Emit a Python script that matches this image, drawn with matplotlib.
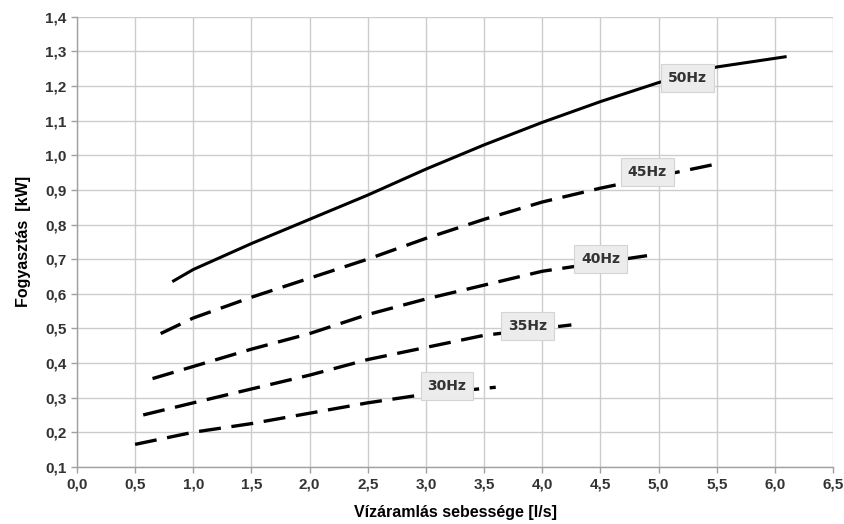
import numpy as np
import matplotlib.pyplot as plt
from matplotlib.ticker import MultipleLocator, FuncFormatter

x50 = [0.82, 1.0, 1.5, 2.0, 2.5, 3.0, 3.5, 4.0, 4.5, 5.0, 5.5, 6.1]
y50 = [0.635, 0.67, 0.745, 0.815, 0.885, 0.96, 1.03, 1.095, 1.155, 1.21, 1.255, 1.285]
x45 = [0.72, 1.0, 1.5, 2.0, 2.5, 3.0, 3.5, 4.0, 4.5, 5.0, 5.5]
y45 = [0.485, 0.53, 0.59, 0.645, 0.70, 0.76, 0.815, 0.865, 0.905, 0.94, 0.975]
x40 = [0.65, 1.0, 1.5, 2.0, 2.5, 3.0, 3.5, 4.0, 4.5, 4.9]
y40 = [0.355, 0.39, 0.44, 0.485, 0.54, 0.585, 0.625, 0.665, 0.69, 0.71]
x35 = [0.57, 1.0, 1.5, 2.0, 2.5, 3.0, 3.5, 4.25]
y35 = [0.25, 0.285, 0.325, 0.365, 0.41, 0.445, 0.48, 0.51]
x30 = [0.5, 1.0, 1.5, 2.0, 2.5, 3.0, 3.6]
y30 = [0.165, 0.20, 0.225, 0.255, 0.285, 0.31, 0.33]

labels = ['50Hz', '45Hz', '40Hz', '35Hz', '30Hz']
label_x = [5.25, 4.9, 4.5, 3.87, 3.18]
label_y = [1.224, 0.952, 0.70, 0.507, 0.333]

series = [(x50, y50), (x45, y45), (x40, y40), (x35, y35), (x30, y30)]

fig = plt.figure(figsize=(8.45, 5.24), dpi=100)
ax = fig.add_axes([0.091, 0.109, 0.895, 0.859])

for i, (xs, ys) in enumerate(series):
    if i == 0:
        ax.plot(xs, ys, color='black', lw=2.2, solid_capstyle='butt', zorder=3)
    else:
        ax.plot(xs, ys, color='black', lw=2.4, dashes=(6.6, 3.2), zorder=3)

for lab, lx, ly in zip(labels, label_x, label_y):
    ax.text(lx, ly, lab, ha='center', va='center', fontsize=10, fontweight='bold',
            color='#333333', family='DejaVu Sans', zorder=5,
            bbox=dict(boxstyle='square,pad=0.5', fc='#ececec', ec='#d4d4d4', lw=0.8))

ax.set_xlim(0, 6.5)
ax.set_ylim(0.1, 1.4)
ax.xaxis.set_major_locator(MultipleLocator(0.5))
ax.yaxis.set_major_locator(MultipleLocator(0.1))
fmt = FuncFormatter(lambda v, p: f'{v:.1f}'.replace('.', ','))
ax.xaxis.set_major_formatter(fmt)
ax.yaxis.set_major_formatter(fmt)

ax.grid(True, color='#cccccc', lw=1.0)
ax.set_axisbelow(True)
for s in ['top', 'right']:
    ax.spines[s].set_visible(False)
for s in ['left', 'bottom']:
    ax.spines[s].set_color('#a0a0a0')
    ax.spines[s].set_linewidth(1.0)
ax.tick_params(colors='#a0a0a0', length=4, width=1.0, labelcolor='#333333')
for t in ax.get_xticklabels() + ax.get_yticklabels():
    t.set_fontweight('bold')
    t.set_fontsize(11)
    t.set_family('Liberation Sans')

ax.set_xlabel('Vízáramlás sebessége [l/s]', fontsize=11.5, fontweight='bold',
              family='Liberation Sans', labelpad=10)
ax.set_ylabel('Fogyasztás  [kW]', fontsize=11.5, fontweight='bold',
              family='Liberation Sans', labelpad=10)

fig.savefig('out.png', dpi=100)
